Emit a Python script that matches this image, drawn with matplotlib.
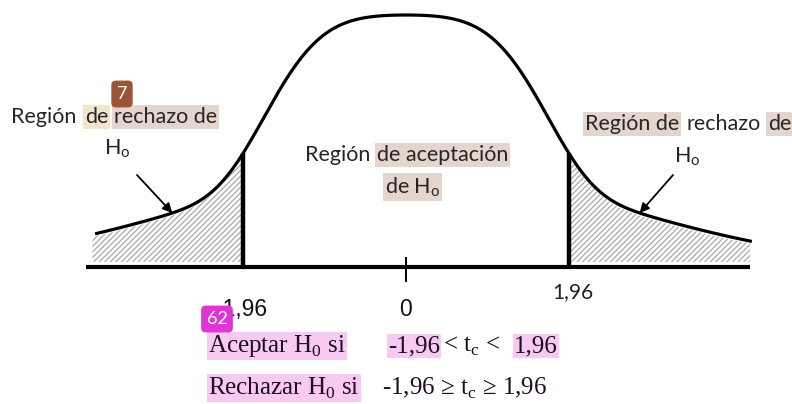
import numpy as np
import matplotlib
matplotlib.use("Agg")
import matplotlib.pyplot as plt

plt.rcParams["mathtext.fontset"] = "custom"
plt.rcParams["mathtext.rm"] = "Liberation Serif"
plt.rcParams["mathtext.sf"] = "Lato"
plt.rcParams["hatch.color"] = "#a8a8a8"
plt.rcParams["hatch.linewidth"] = 0.9

# critical values and axis ticks
crit_values = [-1.96, 1.96]
tick_values = [-1.96, 0, 1.96]
tick_labels = ["-1,96", "0", "1,96"]
arrow_targets = [-2.81, 2.81]

# bell shape as drawn (flat top, heavy tails)
core_weight = 0.606
core_width = 1.823
core_power = 4
tail_width = 2.525
curve_start, curve_end = -3.72, 4.14
hatch_start = -3.77
axis_start, axis_end = -3.85, 4.14


def bell(z):
    core = core_weight * np.exp(-(np.abs(z) / core_width) ** core_power)
    tail = (1 - core_weight) * np.exp(-z ** 2 / (2 * tail_width ** 2))
    return core + tail


fig = plt.figure(figsize=(7.92, 4.04), dpi=100)
ax = fig.add_axes([0, 0, 1, 1])
ax.set_xlim(-4.882, 4.642)
ax.set_ylim(-0.5437, 1.0595)
ax.axis("off")

# overlay in pixel units for the text
ov = fig.add_axes([0, 0, 1, 1], zorder=3)
ov.set_xlim(0, 792)
ov.set_ylim(404, 0)
ov.axis("off")
ov.patch.set_alpha(0)

z = np.linspace(curve_start, curve_end, 600)
ax.plot(z, bell(z), color="black", lw=2.3, zorder=4)

# hatched rejection regions
zl = np.linspace(hatch_start, crit_values[0], 200)
zr = np.linspace(crit_values[1], curve_end, 200)
for zz in (zl, zr):
    ax.fill_between(zz, 0.02, bell(zz) - 0.01, facecolor="white",
                    hatch="//////", edgecolor="#a8a8a8", linewidth=0, zorder=2)

for c in crit_values:
    ax.plot([c, c], [0, bell(c)], color="black", lw=3.2, zorder=5,
            solid_capstyle="butt")

ax.plot([axis_start, axis_end], [0, 0], color="black", lw=3.0, zorder=5,
        solid_capstyle="butt")
ax.plot([0, 0], [0.036, -0.056], color="black", lw=1.4, zorder=5)

# tick labels
ax.text(tick_values[0] - 0.02, -0.17, tick_labels[0], ha="center", va="center",
        fontsize=16.5, family="Liberation Sans", color="#111111")
ax.text(tick_values[1], -0.17, tick_labels[1], ha="center", va="center",
        fontsize=16.5, family="Liberation Sans", color="#111111")
ax.text(tick_values[2] + 0.05, -0.1, tick_labels[2], ha="center", va="center",
        fontsize=15, family="Lato", color="#222222")

# arrows to the tails
for tgt, tail_xy in zip(arrow_targets, [(137, 175), (673, 175)]):
    ax.annotate("", xy=(tgt, bell(tgt)), xycoords="data",
                xytext=tail_xy, textcoords=ov.transData,
                arrowprops=dict(arrowstyle="-|>", color="black", lw=1.3,
                                mutation_scale=14, shrinkA=0, shrinkB=0),
                zorder=6)

tan = "#e4d6cc"
cream = "#f2e5cc"
pink = "#f8c9f3"
txt = "#262626"


def word(x, y, s, fc=None, size=15.5, family="Lato", color=txt, ha="left",
         pad=0.08):
    bbox = None
    if fc:
        bbox = dict(boxstyle=f"square,pad={pad}", facecolor=fc, edgecolor="none")
    ov.text(x, y, s, ha=ha, va="center", fontsize=size, family=family,
            color=color, bbox=bbox)


# left label
word(11, 117, "Región")
word(85, 117, "de", cream)
word(114, 117, "rechazo de", tan)
word(117, 149, r"H$_\mathsf{o}$", ha="center")

# right label
word(585, 124, "Región de", tan)
word(687, 124, "rechazo")
word(768, 124, "de", tan)
word(687, 157, r"H$_\mathsf{o}$", ha="center")

# centre label
word(305, 155, "Región")
word(377, 155, "de aceptación", tan)
word(385, 187, r"de H$_\mathsf{o}$", tan)

# decision rules
serif = "Liberation Serif"
ink = "#1e0f1e"
word(208, 346, r"Aceptar H$_\mathrm{0}$ si ", pink, 18, serif, ink, pad=0.05)
word(388, 346, "-1,96", pink, 18, serif, ink, pad=0.05)
word(443, 346, r"< t$_\mathrm{c}$ <", None, 18, serif, ink)
word(514, 346, "1,96", pink, 18, serif, ink, pad=0.05)
word(208, 388, r"Rechazar H$_\mathrm{0}$ si", pink, 18, serif, ink, pad=0.05)
word(382, 388, r"-1,96 ≥ t$_\mathrm{c}$ ≥ 1,96", None, 18, serif, ink)

# annotation badges
ov.text(122, 94, "7", ha="center", va="center", fontsize=13, family="Lato",
        color="white", bbox=dict(boxstyle="round,pad=0.3,rounding_size=0.25",
                                 facecolor="#9b5535", edgecolor="none"))
ov.text(217, 319, "62", ha="center", va="center", fontsize=13, family="Lato",
        color="white", bbox=dict(boxstyle="round,pad=0.3,rounding_size=0.25",
                                 facecolor="#dd36d2", edgecolor="none"))

fig.savefig("out.png", dpi=100)
